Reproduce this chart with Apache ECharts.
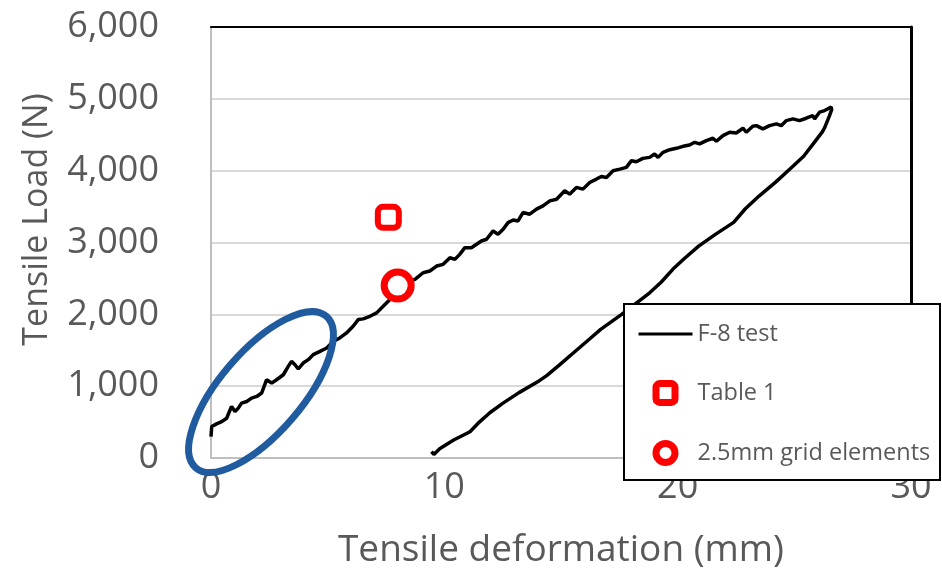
<!DOCTYPE html>
<html>
<head>
<meta charset="utf-8">
<script src="https://cdn.jsdelivr.net/npm/echarts@6/dist/echarts.min.js"></script>
<style>
  html, body { margin: 0; padding: 0; background: #fff; }
  #main { width: 942px; height: 575px; }
</style>
</head>
<body>
<div id="main"></div>
<script>
// F-8 test curve, loading part: [deformation mm, load N]
const loadingCurve = [
  [0.0, 298], [0.03, 438], [0.24, 475], [0.46, 507], [0.67, 554], [0.88, 717], [1.03, 647],
  [1.17, 694], [1.31, 764], [1.53, 787], [1.74, 834], [1.96, 857], [2.17, 904], [2.38, 1089],
  [2.6, 1043], [2.81, 1089], [3.1, 1159], [3.31, 1275], [3.45, 1345], [3.6, 1299], [3.74, 1239],
  [3.95, 1322], [4.17, 1369], [4.38, 1439], [4.67, 1485], [4.96, 1532], [5.24, 1624], [5.52, 1671],
  [5.81, 1741], [6.09, 1834], [6.31, 1927], [6.52, 1937], [6.81, 1973], [7.1, 2020], [7.38, 2113],
  [7.67, 2207], [8.0, 2350], [8.3, 2430], [8.74, 2486], [9.09, 2579], [9.38, 2603], [9.67, 2672],
  [9.95, 2696], [10.24, 2789], [10.45, 2765], [10.66, 2835], [10.88, 2928], [11.16, 2928],
  [11.38, 2975], [11.59, 3021], [11.81, 3045], [12.09, 3161], [12.3, 3114], [12.52, 3184],
  [12.73, 3277], [12.95, 3314], [13.16, 3300], [13.37, 3417], [13.66, 3394], [13.95, 3464],
  [14.23, 3510], [14.52, 3580], [14.81, 3603], [15.16, 3720], [15.37, 3673], [15.66, 3767],
  [15.94, 3743], [16.23, 3836], [16.52, 3883], [16.73, 3920], [16.95, 3906], [17.23, 3999],
  [17.52, 4022], [17.8, 4046], [18.02, 4139], [18.23, 4125], [18.51, 4171], [18.8, 4185],
  [19.01, 4232], [19.16, 4185], [19.37, 4255], [19.66, 4292], [19.94, 4311], [20.23, 4339],
  [20.51, 4358], [20.73, 4395], [20.94, 4372], [21.23, 4418], [21.51, 4451], [21.66, 4409],
  [21.94, 4488], [22.23, 4535], [22.51, 4525], [22.8, 4591], [22.94, 4535], [23.22, 4619],
  [23.37, 4627], [23.65, 4581], [23.94, 4627], [24.23, 4651], [24.44, 4627], [24.66, 4697],
  [24.94, 4721], [25.22, 4697], [25.51, 4730], [25.79, 4767], [25.87, 4721], [26.08, 4814],
  [26.3, 4837], [26.58, 4884]
];
// F-8 test curve, unloading part
const unloadingCurve = [
  [26.6, 4850], [26.5, 4760], [26.3, 4600], [26.2, 4540], [25.8, 4370], [25.4, 4200], [24.8, 4020],
  [24.2, 3840], [23.5, 3650], [22.9, 3470], [22.4, 3280], [21.6, 3110], [20.9, 2950], [20.3, 2780],
  [19.8, 2630], [19.3, 2450], [18.8, 2300], [18.2, 2150], [17.6, 2000], [16.7, 1790], [16.2, 1650],
  [15.7, 1510], [14.95, 1300], [14.4, 1150], [14.0, 1060], [13.2, 910], [12.5, 760], [11.95, 630],
  [11.5, 500], [11.1, 365], [10.4, 250], [9.8, 130], [9.55, 50], [9.45, 90]
];
const table1Point = [[7.6, 3350]];
const gridElementsPoint = [[8.0, 2400]];
const seriesNames = ['F-8 test', 'Table 1', '2.5mm grid elements'];

const font = 'Open Sans';
const grey = '#595959';
const chart = echarts.init(document.getElementById('main'), null, { renderer: 'canvas' });

// path icons keep their aspect inside the wide legend item box
const squareIcon = 'path://M2,0H8A2,2,0,0,1,10,2V8A2,2,0,0,1,8,10H2A2,2,0,0,1,0,8V2A2,2,0,0,1,2,0Z';
const circleIcon = 'path://M5,0A5,5,0,1,1,5,10A5,5,0,1,1,5,0Z';

// secondary axes only draw the black top / right frame lines
const frameAxis = (color, width) => ({
  type: 'value',
  axisLine: { show: true, onZero: false, lineStyle: { color: color, width: width } },
  axisTick: { show: false }, axisLabel: { show: false }, splitLine: { show: false }
});

const option = {
  backgroundColor: '#fff',
  animation: false,
  textStyle: { fontFamily: font },
  grid: { left: 211, right: 31, top: 27, bottom: 117 },
  xAxis: [{
    type: 'value', min: 0, max: 30, interval: 10,
    name: 'Tensile deformation (mm)', nameLocation: 'middle', nameGap: 74,
    nameTextStyle: { fontSize: 37, color: grey, fontFamily: font },
    axisLine: { show: true, onZero: false, lineStyle: { color: '#bfbfbf', width: 2 } },
    axisTick: { show: false },
    axisLabel: { fontSize: 36, color: grey, margin: 12, fontFamily: font },
    splitLine: { show: false }
  }, Object.assign(frameAxis('#000', 2), { min: 0, max: 30, position: 'top' })],
  yAxis: [{
    type: 'value', min: 0, max: 6000, interval: 1000,
    name: 'Tensile Load (N)', nameLocation: 'middle', nameGap: 157,
    nameTextStyle: { fontSize: 34, color: grey, fontFamily: font, padding: [0, 0, 0, 46] },
    axisLine: { show: true, onZero: false, lineStyle: { color: '#bfbfbf', width: 2 } },
    axisTick: { show: false },
    axisLabel: {
      fontSize: 36, color: grey, margin: 52, fontFamily: font,
      formatter: v => v.toLocaleString('en-US')
    },
    splitLine: { lineStyle: { color: '#d9d9d9', width: 2 } }
  }, Object.assign(frameAxis('#000', 3), { min: 0, max: 6000, position: 'right' })],
  legend: {
    orient: 'vertical', left: 637, top: 322, padding: 0,
    itemWidth: 54, itemHeight: 19, itemGap: 34,
    symbolKeepAspect: true,
    z: 6,
    textStyle: { fontSize: 23.5, color: grey, fontFamily: font },
    data: [
      { name: seriesNames[0], itemStyle: { opacity: 0 }, lineStyle: { width: 3, color: '#000' } },
      { name: seriesNames[1], icon: squareIcon, itemStyle: { borderWidth: 7, opacity: 1 } },
      { name: seriesNames[2], icon: circleIcon, itemStyle: { borderWidth: 7, opacity: 1 } }
    ]
  },
  graphic: [
    {
      type: 'rect', z: 3,
      shape: { x: 624, y: 304, width: 316, height: 176 },
      style: { fill: '#fff', stroke: '#000', lineWidth: 2 }
    },
    {
      type: 'ellipse', z: 5, x: 261, y: 392, rotation: 0.86,
      shape: { cx: 0, cy: 0, rx: 100, ry: 41 },
      style: { fill: 'none', stroke: '#1F5B9E', lineWidth: 7 }
    }
  ],
  series: [
    {
      name: seriesNames[0], type: 'line', data: loadingCurve.concat(unloadingCurve),
      symbol: 'none', lineStyle: { color: '#000', width: 3.5 },
      itemStyle: { color: '#000' }, z: 2
    },
    {
      name: seriesNames[1], type: 'scatter', data: table1Point,
      symbol: 'roundRect', symbolSize: 21,
      itemStyle: { color: '#fff', borderColor: '#ff0000', borderWidth: 6, opacity: 1 }, z: 2
    },
    {
      name: seriesNames[2], type: 'scatter', data: gridElementsPoint,
      symbol: 'circle', symbolSize: 27,
      itemStyle: { color: '#fff', borderColor: '#ff0000', borderWidth: 7, opacity: 1 }, z: 2
    }
  ]
};
chart.setOption(option);
</script>
</body>
</html>
